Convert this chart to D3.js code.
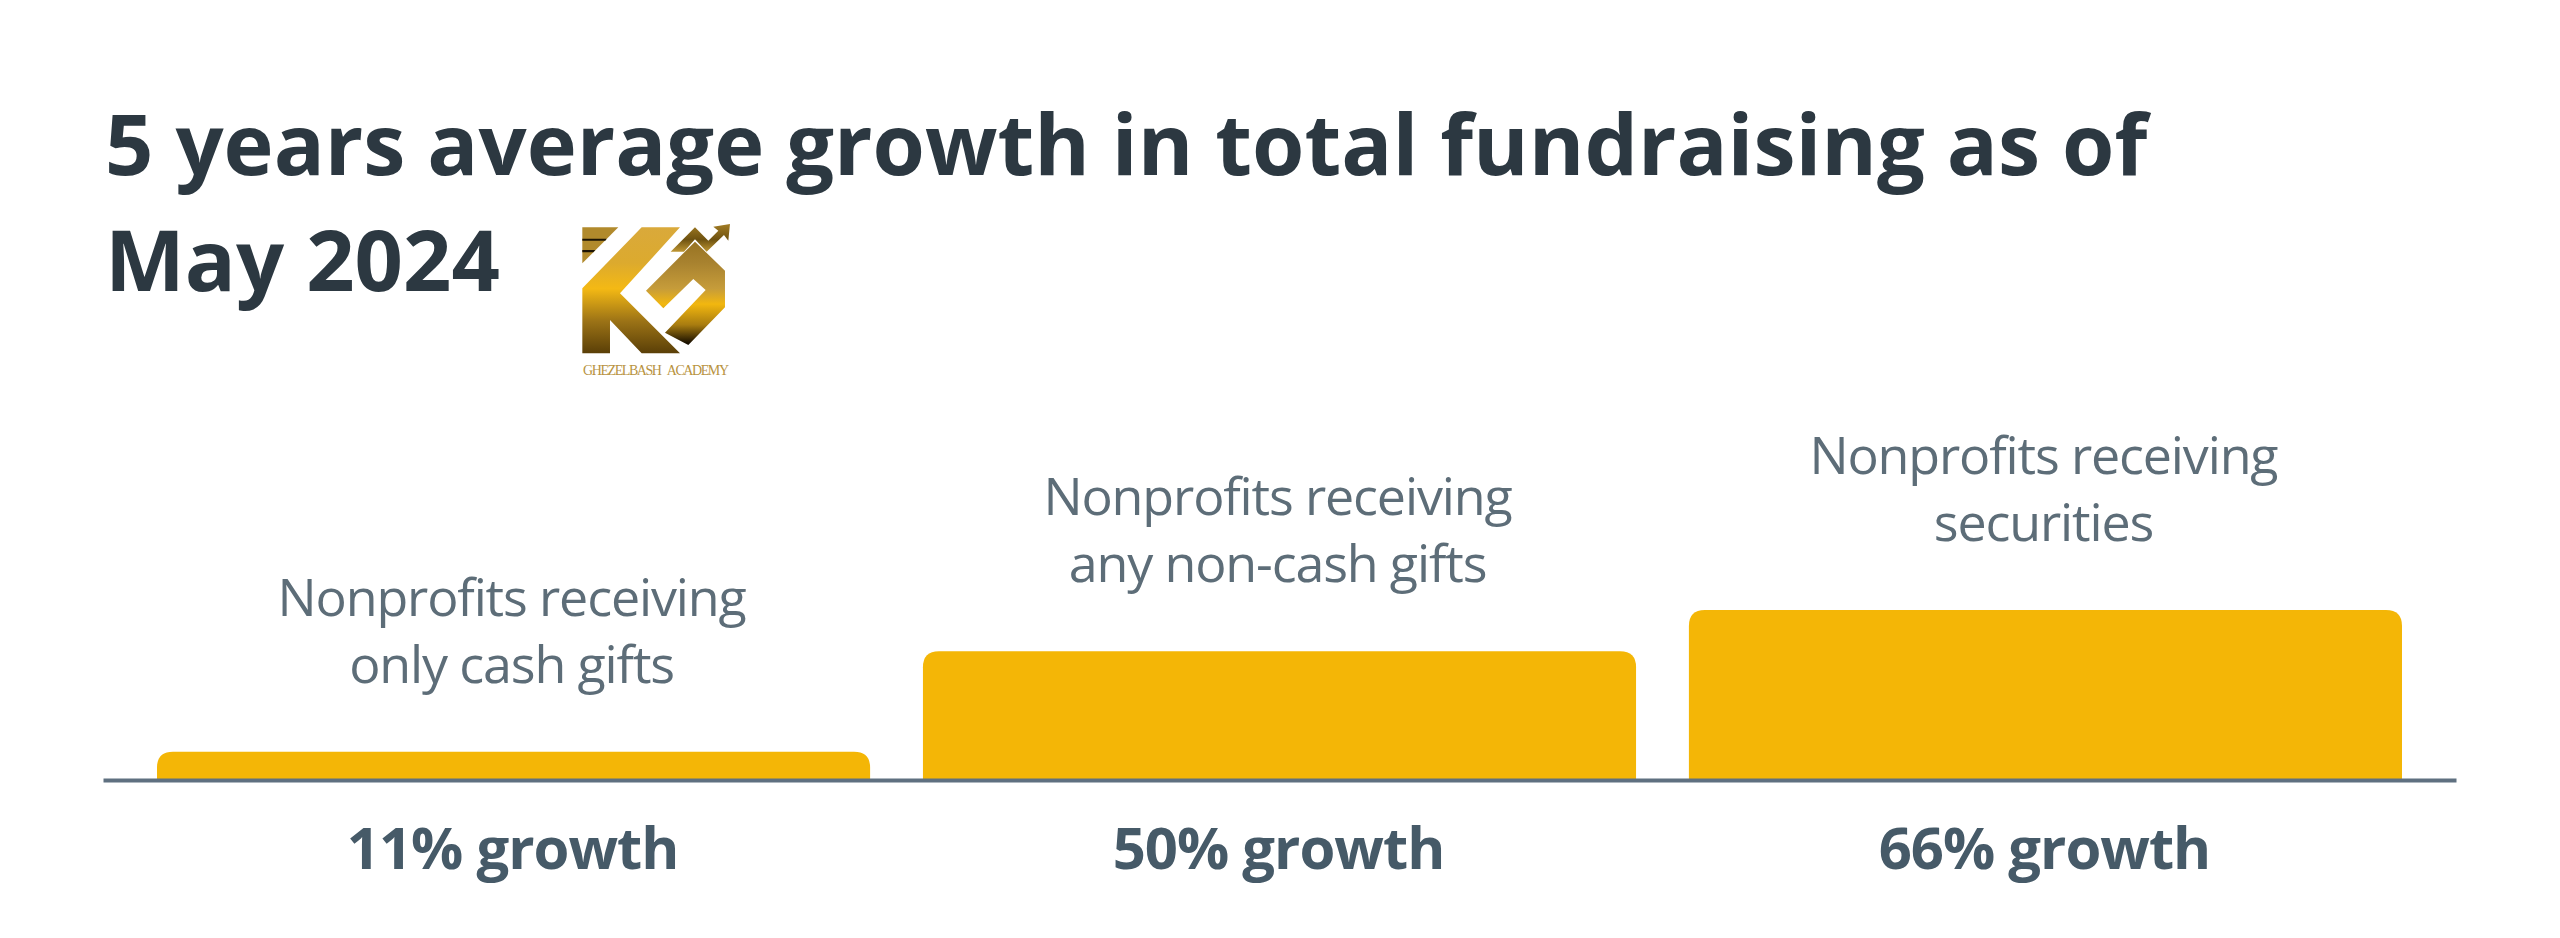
<!DOCTYPE html>
<html>
<head>
<meta charset="utf-8">
<script src="https://cdn.jsdelivr.net/npm/d3@7"></script>
<style>
  html, body { margin: 0; padding: 0; background: #fff; }
  svg { display: block; }
  text { font-family: "Open Sans", sans-serif; }
</style>
</head>
<body>
<div id="chart"></div>
<script>
// chart data
const titleLines = ["5 years average growth in total fundraising as of", "May 2024"];
const categories = ["only cash", "any non-cash", "securities"];
const categoryLabels = [
  ["Nonprofits receiving", "only cash gifts"],
  ["Nonprofits receiving", "any non-cash gifts"],
  ["Nonprofits receiving", "securities"]
];
const growth = [11, 50, 66];

const width = 2560, height = 938;
const baseline = 780;

let svg = d3.select("#chart")
    .append("svg")
    .attr("width", width)
    .attr("height", height);

// title
svg.selectAll("text.title")
    .data(titleLines)
    .enter()
    .append("text")
    .attr("class", "title")
    .attr("x", 105)
    .attr("y", (d, i) => 175 + i * 116)
    .style("font-size", "84.7px")
    .style("font-weight", 700)
    .style("fill", "#2c3841")
    .text(d => d);

// scales
let x = d3.scaleBand()
    .domain(categories)
    .range([157, 2402])
    .paddingInner(0.069)
    .paddingOuter(0);

let y = d3.scaleLinear()
    .domain([0, 66])
    .range([baseline, 610]);

// top corners rounded, bottom square
function barPath(d, i) {
  let x0 = x(categories[i]), x1 = x0 + x.bandwidth(), top = y(d), r = 16;
  return `M${x0},${baseline}V${top + r}Q${x0},${top} ${x0 + r},${top}H${x1 - r}Q${x1},${top} ${x1},${top + r}V${baseline}Z`;
}

svg.selectAll("path.bar")
    .data(growth)
    .enter()
    .append("path")
    .attr("class", "bar")
    .attr("d", barPath)
    .attr("fill", "#f4b606");

// baseline axis, no ticks
let axis = svg.append("g")
    .attr("transform", `translate(0, ${baseline})`)
    .call(d3.axisBottom(d3.scaleLinear().domain([0, 1]).range([103, 2456])).ticks(0).tickSize(0).tickSizeOuter(0));
axis.select(".domain")
    .attr("stroke", "#5f7080")
    .attr("stroke-width", 4);

// category labels over each bar
categoryLabels.forEach(function(lines, i) {
  svg.selectAll(`text.label${i}`)
      .data(lines)
      .enter()
      .append("text")
      .attr("class", `label${i}`)
      .attr("x", x(categories[i]) + x.bandwidth() / 2 - 2)
      .attr("y", (d, j) => y(growth[i]) - 136 + j * 67)
      .style("text-anchor", "middle")
      .style("font-size", "52px")
      .style("letter-spacing", "-1.15px")
      .style("fill", "#5d6d78")
      .text(d => d);
});

// growth labels under the axis
svg.selectAll("text.growth")
    .data(growth)
    .enter()
    .append("text")
    .attr("class", "growth")
    .attr("x", (d, i) => x(categories[i]) + x.bandwidth() / 2 - 1)
    .attr("y", 869)
    .style("text-anchor", "middle")
    .style("font-size", "58px")
    .style("font-weight", 700)
    .style("letter-spacing", "-1px")
    .style("fill", "#465a68")
    .text(d => `${d}% growth`);

// watermark logo
let defs = svg.append("defs");
function addGradient(id, stops) {
  let grad = defs.append("linearGradient")
      .attr("id", id)
      .attr("gradientUnits", "userSpaceOnUse")
      .attr("x1", 0).attr("y1", 72).attr("x2", 0).attr("y2", 460);
  stops.forEach(s => grad.append("stop").attr("offset", s[0]).attr("stop-color", s[1]));
}
addGradient("goldK", [[0, "#d9a93c"], [0.3, "#dcaa2e"], [0.5, "#f4b914"], [0.75, "#9c7316"], [1, "#5a3f07"]]);
addGradient("goldG", [[0, "#8a6618"], [0.3, "#a8822f"], [0.5, "#c69c3a"], [0.62, "#f2b70f"], [0.78, "#a87c10"], [0.92, "#1a1000"], [1, "#0e0800"]]);
addGradient("goldA", [[0, "#a27c24"], [0.12, "#6e5210"], [0.22, "#c39a35"], [1, "#c39a35"]]);

let logo = svg.append("g").attr("transform", "translate(540, 200) scale(0.3333)");
const logoShapes = [
  ["127,82 235,82 127,190", "#b18a2c"],
  ["127,265 305,82 420,82 240,280 420,460 305,460 210,360 210,460 127,460", "url(#goldK)"],
  ["318,272 465,125 555,212 555,322 445,435 375,398 497,270 460,237 370,325", "url(#goldG)"],
  ["392,155 465,82 505,122 535,92 520,80 570,72 565,122 552,105 500,155 465,118 432,155", "url(#goldA)"],
  ["127,116 200,116 196,122 127,122", "#1c1404"],
  ["127,150 166,150 160,157 127,157", "#1c1404"]
];
logo.selectAll("polygon")
    .data(logoShapes)
    .enter()
    .append("polygon")
    .attr("points", d => d[0])
    .attr("fill", d => d[1]);

svg.append("text")
    .attr("x", 583)
    .attr("y", 375)
    .attr("textLength", 146)
    .style("font-family", "'Liberation Serif', serif")
    .style("font-size", "14px")
    .style("fill", "#b8933f")
    .text("GHEZELBASH\u00a0\u00a0\u00a0ACADEMY");
</script>
</body>
</html>
